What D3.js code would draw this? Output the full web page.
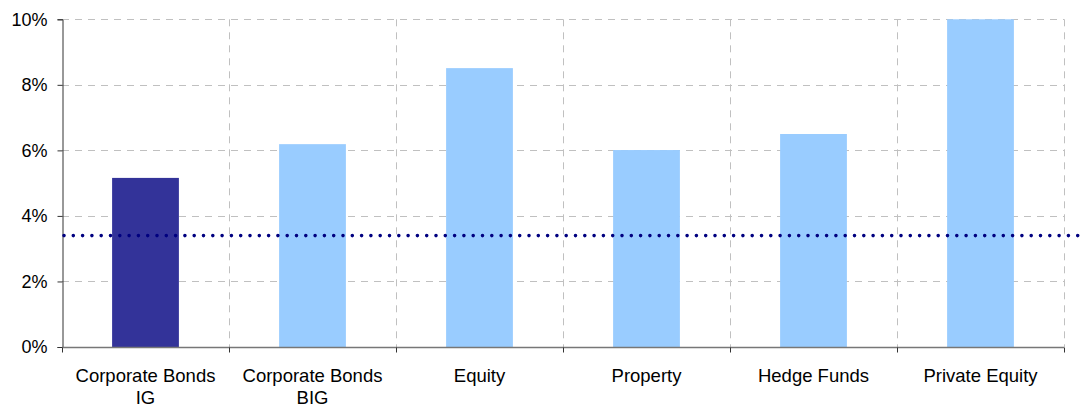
<!DOCTYPE html>
<head>
  <meta charset="utf-8" />
  <script src="https://d3js.org/d3.v7.min.js"></script>
  <style>
    body { margin: 0; background: #fff; }
    text { font-family: Arial, "Liberation Sans", sans-serif; fill: #000; }
  </style>
</head>
<body>
  <script>
    // data
    var categories = [["Corporate Bonds", "IG"], ["Corporate Bonds", "BIG"], ["Equity"], ["Property"], ["Hedge Funds"], ["Private Equity"]];
    var values = [5.16, 6.19, 8.51, 6.01, 6.5, 10];
    var barColors = ["#333399", "#99ccff", "#99ccff", "#99ccff", "#99ccff", "#99ccff"];
    var yTicks = [0, 2, 4, 6, 8, 10];
    var refLine = 3.4;

    var width = 1085, height = 407;
    var plotLeft = 62, plotRight = 1064, plotTop = 19.3, plotBottom = 347;

    var svg = d3.select("body").append("svg")
      .attr("width", width).attr("height", height);

    var x = d3.scaleBand()
      .domain(d3.range(categories.length))
      .range([plotLeft, plotRight])
      .padding(0);

    var y = d3.scaleLinear().domain([0, 10]).range([plotBottom, plotTop]);

    // horizontal grid
    svg.append("g").selectAll("line")
      .data(yTicks.filter(function (d) { return d > 0; }))
      .join("line")
      .attr("x1", plotLeft).attr("x2", plotRight)
      .attr("y1", function (d) { return Math.round(y(d)) + 0.5; })
      .attr("y2", function (d) { return Math.round(y(d)) + 0.5; })
      .attr("stroke", "#c0c0c0")
      .attr("stroke-dasharray", "7,6");

    // vertical grid at band edges
    svg.append("g").selectAll("line")
      .data(d3.range(1, categories.length + 1))
      .join("line")
      .attr("x1", function (i) { return Math.round(plotLeft + i * x.step()) + 0.5; })
      .attr("x2", function (i) { return Math.round(plotLeft + i * x.step()) + 0.5; })
      .attr("y1", plotTop).attr("y2", plotBottom)
      .attr("stroke", "#c0c0c0")
      .attr("stroke-dasharray", "7,6");

    // bars
    var barW = x.bandwidth() * 0.4;
    svg.append("g").selectAll("rect")
      .data(values)
      .join("rect")
      .attr("x", function (d, i) { return x(i) + (x.bandwidth() - barW) / 2; })
      .attr("y", function (d) { return y(d); })
      .attr("width", barW)
      .attr("height", function (d) { return y(0) - y(d); })
      .attr("fill", function (d, i) { return barColors[i]; });

    // y axis
    var yAxis = svg.append("g")
      .attr("transform", "translate(" + (plotLeft + 0.5) + ",0)")
      .call(d3.axisLeft(y).tickValues(yTicks).tickSize(5).tickPadding(10)
        .tickFormat(function (d) { return d + "%"; }));
    yAxis.select(".domain").attr("stroke", "#333");
    yAxis.selectAll(".tick line").attr("stroke", "#333");
    yAxis.selectAll("text").style("font-size", "18px").attr("fill", "#000");

    // x axis
    var xAxis = svg.append("g").attr("transform", "translate(0," + (plotBottom + 0.5) + ")");
    xAxis.append("line")
      .attr("x1", plotLeft).attr("x2", plotRight)
      .attr("stroke", "#777").attr("stroke-width", 1.5);
    xAxis.selectAll(".xt")
      .data(d3.range(0, categories.length + 1))
      .join("line")
      .attr("class", "xt")
      .attr("x1", function (i) { return Math.round(plotLeft + i * x.step()) + 0.5; })
      .attr("x2", function (i) { return Math.round(plotLeft + i * x.step()) + 0.5; })
      .attr("y1", 0).attr("y2", 5)
      .attr("stroke", "#333");

    var labels = svg.append("g").selectAll("text")
      .data(categories)
      .join("text")
      .attr("text-anchor", "middle")
      .style("font-size", "18.5px")
      .attr("transform", function (d, i) { return "translate(" + (x(i) + x.bandwidth() / 2) + ",382)"; });
    labels.selectAll("tspan")
      .data(function (d) { return d; })
      .join("tspan")
      .attr("x", 0)
      .attr("dy", function (d, j) { return j === 0 ? 0 : 22; })
      .text(function (d) { return d; });

    // reference dotted line
    svg.append("line")
      .attr("x1", plotLeft + 2).attr("x2", width)
      .attr("y1", y(refLine)).attr("y2", y(refLine))
      .attr("stroke", "#000080")
      .attr("stroke-width", 3.6)
      .attr("stroke-linecap", "round")
      .attr("stroke-dasharray", "0,9.3");
  </script>
</body>
